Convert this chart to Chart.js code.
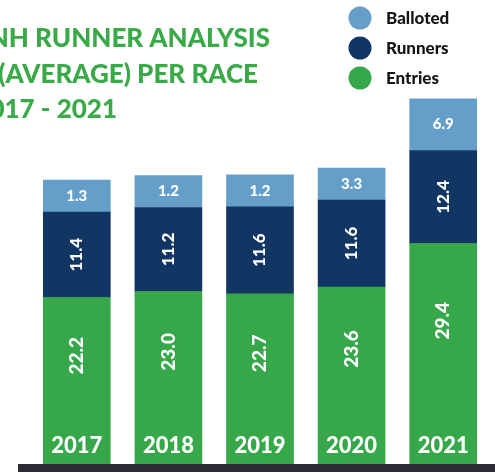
<!DOCTYPE html>
<html>
<head>
<meta charset="utf-8">
<script src="https://cdn.jsdelivr.net/npm/chart.js@4/dist/chart.umd.min.js"></script>
<style>
  html, body { margin: 0; padding: 0; background: #fff; overflow: hidden; }
  #wrap { width: 495px; height: 472px; }
</style>
</head>
<body>
<div id="wrap"><canvas id="chart" width="495" height="472"></canvas></div>
<script>
var years = ['2017', '2018', '2019', '2020', '2021'];
var entries = [22.2, 23.0, 22.7, 23.6, 29.4];
var runners = [11.4, 11.2, 11.6, 11.6, 12.4];
var balloted = [1.3, 1.2, 1.2, 3.3, 6.9];
var titleLines = ['NH RUNNER ANALYSIS', '(AVERAGE) PER RACE', '2017 - 2021'];

var GREEN = '#37a84a', NAVY = '#123663', LIGHT = '#659ec8';
var FONT = 'Lato, "Open Sans", sans-serif';

// title, legend, segment labels, years and the dark base strip
var decor = {
  id: 'decor',
  beforeDatasetsDraw: function(chart) {
    var ctx = chart.ctx, area = chart.chartArea;
    ctx.save();
    ctx.fillStyle = '#2c2b33';
    ctx.fillRect(18, area.bottom, 495 - 18, 8);

    // title (cut off at the left like the source)
    ctx.fillStyle = '#3aa948';
    ctx.font = '900 26px ' + FONT;
    ctx.textAlign = 'right';
    ctx.textBaseline = 'alphabetic';
    var ends = [270, 258, 117], bases = [47, 83, 118];
    titleLines.forEach(function(t, i) { ctx.fillText(t, ends[i], bases[i]); });

    // legend, top series first
    var items = chart.data.datasets.slice().reverse();
    ctx.textAlign = 'left';
    ctx.textBaseline = 'middle';
    ctx.font = '900 17px ' + FONT;
    items.forEach(function(ds, i) {
      var y = 18 + i * 30;
      ctx.fillStyle = ds.backgroundColor;
      ctx.beginPath();
      ctx.arc(360, y, 11.5, 0, Math.PI * 2);
      ctx.fill();
      ctx.fillStyle = '#151515';
      ctx.fillText(ds.label, 386, y + 1);
    });
    ctx.restore();
  },
  afterDatasetsDraw: function(chart) {
    var ctx = chart.ctx;
    ctx.save();
    ctx.fillStyle = '#fff';
    ctx.textAlign = 'center';
    ctx.textBaseline = 'middle';
    chart.data.datasets.forEach(function(ds, di) {
      var meta = chart.getDatasetMeta(di);
      meta.data.forEach(function(bar, i) {
        var text = ds.data[i].toFixed(1);
        var top = bar.y, base = bar.base;
        if (ds.label === 'Balloted') {
          ctx.font = '900 15px ' + FONT;
          ctx.fillText(text, bar.x, (top + base) / 2);
        } else {
          var cy = ds.label === 'Runners' ? (top + base) / 2 : top + (base - top) * 0.35;
          ctx.font = ds.label === 'Runners' ? '900 17px ' + FONT : '900 19px ' + FONT;
          ctx.save();
          ctx.translate(bar.x, cy);
          ctx.rotate(-Math.PI / 2);
          ctx.fillText(text, 0, 0);
          ctx.restore();
        }
      });
    });
    // year labels inside the bars
    var xs = chart.scales.x;
    ctx.font = '900 22px ' + FONT;
    years.forEach(function(y, i) {
      ctx.fillText(y, xs.getPixelForValue(i), 446);
    });
    ctx.restore();
  }
};

new Chart(document.getElementById('chart'), {
  type: 'bar',
  data: {
    labels: years,
    datasets: [{
      label: 'Entries',
      data: entries,
      backgroundColor: GREEN
    }, {
      label: 'Runners',
      data: runners,
      backgroundColor: NAVY
    }, {
      label: 'Balloted',
      data: balloted,
      backgroundColor: LIGHT,
      minBarLength: 32
    }]
  },
  options: {
    responsive: false,
    animation: false,
    devicePixelRatio: 1,
    layout: { padding: { top: 89, bottom: 8, left: 31, right: 6 } },
    datasets: { bar: { barThickness: 67, borderWidth: 0 } },
    plugins: { legend: { display: false }, tooltip: { enabled: false } },
    scales: {
      x: { stacked: true, display: false },
      y: { stacked: true, display: false, min: 0, max: 50 }
    }
  },
  plugins: [decor]
});
</script>
</body>
</html>
